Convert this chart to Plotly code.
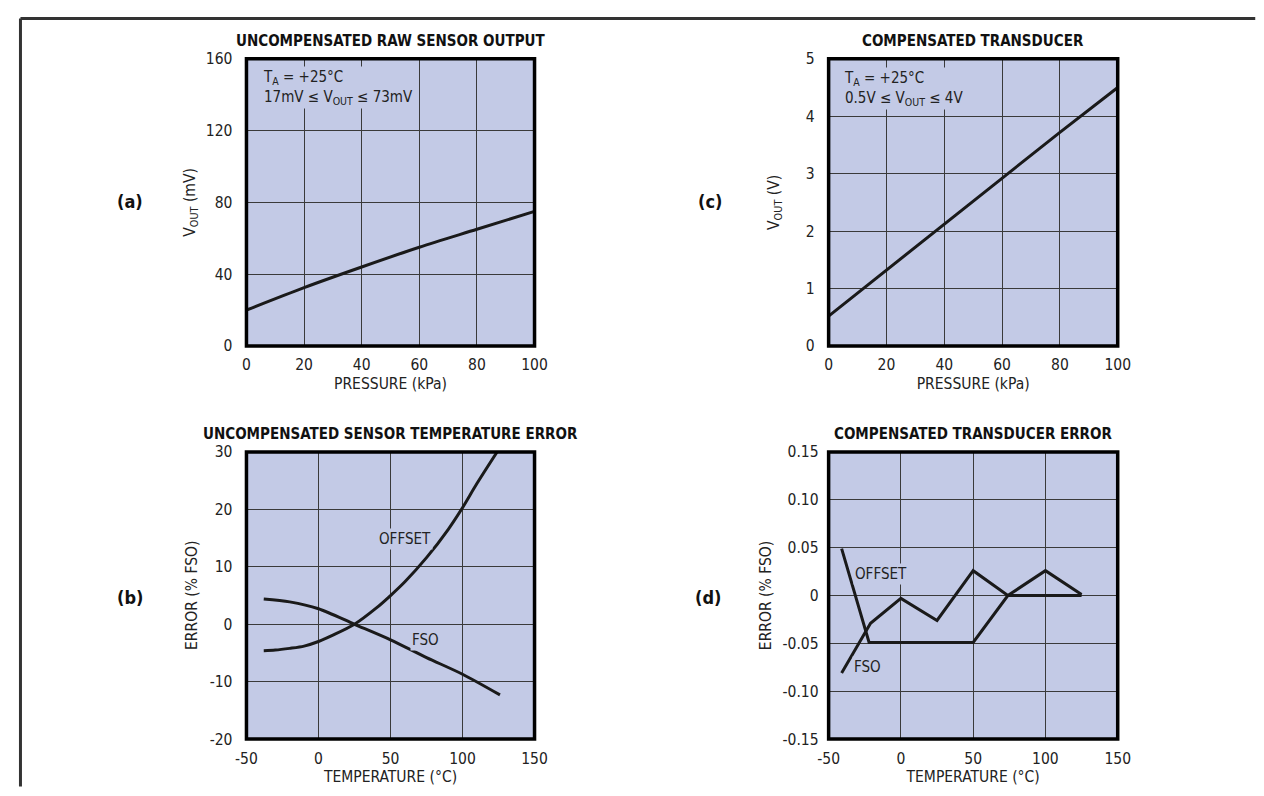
import plotly.graph_objects as go

# ---------------- data ----------------
pressure_kpa = [0, 20, 40, 60, 80, 100]
raw_vout_mv = [20, 32.5, 44, 55, 65, 75]
comp_vout_v = [0.52, 1.32, 2.12, 2.92, 3.72, 4.5]

b_offset_temp = [-38, -30, -20, -10, 0, 10, 25, 40, 50, 60, 75, 90, 100, 110, 124]
b_offset_err = [-4.6, -4.5, -4.2, -3.8, -3.0, -1.9, 0, 2.8, 5.0, 7.4, 11.6, 16.5, 20.3, 24.5, 30]
b_fso_temp = [-38, -20, 0, 25, 50, 75, 100, 126]
b_fso_err = [4.4, 3.9, 2.7, 0, -2.7, -5.8, -8.7, -12.3]

d_offset_temp = [-41, -22, 50, 74, 125]
d_offset_err = [0.049, -0.049, -0.049, 0, 0]
d_fso_temp = [-41, -21, 0, 25, 50, 74, 100, 125]
d_fso_err = [-0.081, -0.029, -0.003, -0.026, 0.026, 0, 0.026, 0.001]

p_ticks = [0, 20, 40, 60, 80, 100]
p_ticklabels = ["0", "20", "40", "60", "80", "100"]
a_yticks = [0, 40, 80, 120, 160]
a_yticklabels = ["0", "40", "80", "120", "160"]
c_yticks = [0, 1, 2, 3, 4, 5]
c_yticklabels = ["0", "1", "2", "3", "4", "5"]
t_ticks = [-50, 0, 50, 100, 150]
t_ticklabels = ["-50", "0", "50", "100", "150"]
b_yticks = [-20, -10, 0, 10, 20, 30]
b_yticklabels = ["-20", "-10", "0", "10", "20", "30"]
d_yticks = [-0.15, -0.10, -0.05, 0, 0.05, 0.10, 0.15]
d_yticklabels = ["-0.15", "-0.10", "-0.05", "0", "0.05", "0.10", "0.15"]

# ---------------- style ----------------
W, H = 1248, 780
FONT = "DejaVu Sans Condensed, DejaVu Sans, sans-serif"
BG = "#c3cae6"
GRID = "#3a3a3a"
INK = "#1a1a1a"
TXT = "#222222"

# observed mapping of figure pixels to the photographed picture
SX, OX = 0.9805, 18.6
SY, OY = 0.9765, 16.2


def fnt(size, color=TXT, weight="normal"):
    return dict(family=FONT, size=size, color=color, weight=weight)


def px_x(p):
    """target picture x pixel -> paper fraction"""
    return ((p - OX) / SX) / W


def px_y(p):
    """target picture y pixel -> paper fraction"""
    return 1 - ((p - OY) / SY) / H


# plot areas in target picture pixels (left, right, top, bottom)
areas = {
    "a": (246, 534, 58, 345),
    "c": (828, 1117, 58, 345),
    "b": (246, 534, 451, 738),
    "d": (828, 1117, 451, 738),
}

fig = go.Figure()


def add_line(x, y, xa, ya, name, shape="linear"):
    fig.add_trace(go.Scatter(x=x, y=y, mode="lines", name=name, xaxis=xa, yaxis=ya,
                             line=dict(color=INK, width=3, shape=shape, smoothing=0.8),
                             showlegend=False, hoverinfo="x+y"))


add_line(pressure_kpa, raw_vout_mv, "x", "y", "VOUT raw", "spline")
add_line(pressure_kpa, comp_vout_v, "x2", "y2", "VOUT compensated")
add_line(b_offset_temp, b_offset_err, "x3", "y3", "OFFSET", "spline")
add_line(b_fso_temp, b_fso_err, "x3", "y3", "FSO", "spline")
add_line(d_offset_temp, d_offset_err, "x4", "y4", "OFFSET")
add_line(d_fso_temp, d_fso_err, "x4", "y4", "FSO")


def axis_common():
    return dict(showgrid=True, gridcolor=GRID, gridwidth=1.4, zeroline=False,
                showline=False, ticks="", tickfont=fnt(15.5), title_font=fnt(15.5),
                fixedrange=True)


layout_axes = {}
# key, axis names, anchors, ranges, ticks, x title, y title, y-title centre x, y tick standoff
specs = [
    ("a", "xaxis", "yaxis", "x", "y", [0, 100], p_ticks, p_ticklabels, [0, 160], a_yticks,
     a_yticklabels, "PRESSURE (kPa)", "V<sub>OUT</sub> (mV)", 191, 13),
    ("c", "xaxis2", "yaxis2", "x2", "y2", [0, 100], p_ticks, p_ticklabels, [0, 5], c_yticks,
     c_yticklabels, "PRESSURE (kPa)", "V<sub>OUT</sub> (V)", 775, 13),
    ("b", "xaxis3", "yaxis3", "x3", "y3", [-50, 150], t_ticks, t_ticklabels, [-20, 30], b_yticks,
     b_yticklabels, "TEMPERATURE (°C)", "ERROR (% FSO)", 191, 13),
    ("d", "xaxis4", "yaxis4", "x4", "y4", [-50, 150], t_ticks, t_ticklabels, [-0.15, 0.15],
     d_yticks, d_yticklabels, "TEMPERATURE (°C)", "ERROR (% FSO)", 765, 9),
]

annotations = []
for key, xk, yk, xr, yr, xrange_, xt, xtl, yrange_, yt, ytl, xtitle, ytitle, ytx, ystand in specs:
    l, r, t, b = areas[key]
    xa = axis_common()
    xa.update(domain=[px_x(l), px_x(r)], range=xrange_, tickvals=xt, ticktext=xtl, anchor=yr,
              ticklabelstandoff=8, title=dict(text=xtitle, standoff=4))
    ya = axis_common()
    ya.update(domain=[px_y(b), px_y(t)], range=yrange_, tickvals=yt, ticktext=ytl, anchor=xr,
              ticklabelstandoff=ystand)
    layout_axes[xk] = xa
    layout_axes[yk] = ya
    # y-axis title
    annotations.append(dict(text=ytitle, xref="paper", yref="paper", x=px_x(ytx),
                            y=px_y((t + b) / 2), xanchor="center", yanchor="middle",
                            textangle=-90, showarrow=False, font=fnt(15.5)))

fig.update_layout(**layout_axes)

shapes = []
# thick black frames around each plot
for xr, yr in [("x", "y"), ("x2", "y2"), ("x3", "y3"), ("x4", "y4")]:
    shapes.append(dict(type="rect", xref=f"{xr} domain", yref=f"{yr} domain",
                       x0=0, x1=1, y0=0, y1=1, line=dict(color="#000000", width=3.5),
                       layer="above"))
# outer page frame (top and left rule), as close to the edge as the page allows
fx0 = 1.5 / W
fy0 = 1 - 1.5 / H
shapes.append(dict(type="line", xref="paper", yref="paper", x0=fx0, x1=1.01,
                   y0=fy0, y1=fy0, line=dict(color="#333333", width=3)))
shapes.append(dict(type="line", xref="paper", yref="paper", x0=fx0, x1=fx0,
                   y0=fy0, y1=-0.01, line=dict(color="#333333", width=3)))

# titles
titles = [("a", "UNCOMPENSATED RAW SENSOR OUTPUT"), ("c", "COMPENSATED TRANSDUCER"),
          ("b", "UNCOMPENSATED SENSOR TEMPERATURE ERROR"), ("d", "COMPENSATED TRANSDUCER ERROR")]
for key, txt in titles:
    l, r, t, b = areas[key]
    annotations.append(dict(text=f"<b>{txt}</b>", xref="paper", yref="paper",
                            x=px_x((l + r) / 2), y=px_y(t - 18), xanchor="center",
                            yanchor="middle", showarrow=False,
                            font=fnt(15, "#111111", "bold")))
# panel labels
for lab, xpix, ypix in [("(a)", 130, 201), ("(b)", 130, 596), ("(c)", 709, 201), ("(d)", 707, 596)]:
    annotations.append(dict(text=f"<b>{lab}</b>", xref="paper", yref="paper", x=px_x(xpix),
                            y=px_y(ypix), xanchor="center", yanchor="middle", showarrow=False,
                            font=fnt(18, "#111111", "bold")))
# condition text boxes
annotations.append(dict(text="T<sub>A</sub> = +25°C<br>17mV ≤ V<sub>OUT</sub> ≤ 73mV",
                        xref="x domain", yref="y domain", x=0.05, y=0.975, xanchor="left",
                        yanchor="top", align="left", showarrow=False, bgcolor=BG, borderpad=1,
                        font=fnt(15)))
annotations.append(dict(text="T<sub>A</sub> = +25°C<br>0.5V ≤ V<sub>OUT</sub> ≤ 4V",
                        xref="x2 domain", yref="y2 domain", x=0.045, y=0.97, xanchor="left",
                        yanchor="top", align="left", showarrow=False, bgcolor=BG, borderpad=1,
                        font=fnt(15)))
# curve labels
for txt, xr, yr, xv, yv in [("OFFSET", "x3", "y3", 60, 14.9), ("FSO", "x3", "y3", 74, -2.8),
                            ("OFFSET", "x4", "y4", -14, 0.023), ("FSO", "x4", "y4", -23, -0.075)]:
    annotations.append(dict(text=txt, xref=xr, yref=yr, x=xv, y=yv, showarrow=False,
                            bgcolor=BG, borderpad=1, font=fnt(15)))

fig.update_layout(width=W, height=H, margin=dict(l=0, r=0, t=0, b=0),
                  paper_bgcolor="white", plot_bgcolor=BG, shapes=shapes,
                  annotations=annotations, showlegend=False,
                  font=fnt(15))

fig.write_html("out.html")
